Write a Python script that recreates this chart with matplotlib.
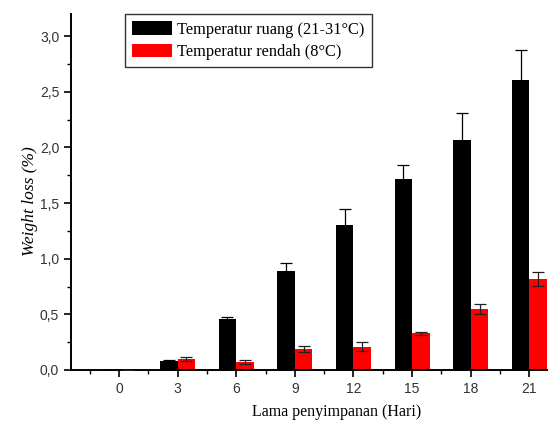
import numpy as np
import matplotlib
matplotlib.use("Agg")
import matplotlib.pyplot as plt
from matplotlib.ticker import MultipleLocator, FuncFormatter

# Data
days = [0, 3, 6, 9, 12, 15, 18, 21]
ruang = [0.0, 0.08, 0.46, 0.89, 1.30, 1.72, 2.07, 2.61]
ruang_err = [0.0, 0.01, 0.02, 0.07, 0.15, 0.12, 0.24, 0.27]
rendah = [0.0, 0.10, 0.07, 0.19, 0.21, 0.33, 0.55, 0.82]
rendah_err = [0.0, 0.015, 0.02, 0.03, 0.04, 0.015, 0.045, 0.065]

serif = ['Liberation Serif', 'DejaVu Serif']
sans = ['Liberation Sans', 'DejaVu Sans']

fig = plt.figure(figsize=(5.48, 4.23), dpi=100)
ax = fig.add_axes([0.1296, 0.1253, 0.8704, 0.8417])

w = 0.9
x = np.array(days, dtype=float)
ax.bar(x, ruang, width=-w, align='edge', color='black',
       label='Temperatur ruang (21-31°C)', zorder=2)
ax.bar(x, rendah, width=w, align='edge', color='#ff0000',
       label='Temperatur rendah (8°C)', zorder=2)
ax.errorbar(x - w / 2, ruang, yerr=ruang_err, fmt='none', ecolor='black',
            elinewidth=0.9, capsize=4, capthick=0.9, zorder=3)
ax.errorbar(x + w / 2, rendah, yerr=rendah_err, fmt='none', ecolor='#202020',
            elinewidth=0.9, capsize=4, capthick=0.9, zorder=3)

ax.set_xlim(-2.45, 21.95)
ax.set_ylim(0, 3.2)
ax.set_xticks(days)
ax.xaxis.set_minor_locator(MultipleLocator(1.5))
ax.yaxis.set_major_locator(MultipleLocator(0.5))
ax.yaxis.set_minor_locator(MultipleLocator(0.25))
ax.yaxis.set_major_formatter(FuncFormatter(lambda v, p: f"{v:.1f}".replace('.', ',')))

for s in ['top', 'right']:
    ax.spines[s].set_visible(False)
for s in ['left', 'bottom']:
    ax.spines[s].set_linewidth(1.4)

ax.tick_params(which='major', direction='out', length=5, width=1.2, labelsize=10)
ax.tick_params(which='minor', direction='out', length=3, width=1.0)
for lbl in ax.get_xticklabels() + ax.get_yticklabels():
    lbl.set_family(sans)
    lbl.set_color('#333333')

ax.set_ylabel('Weight loss (%)', family=serif, style='italic', fontsize=12.5)
ax.yaxis.set_label_coords(-0.07, 0.475)
ax.set_xlabel('Lama penyimpanan (Hari)', family=serif, fontsize=11.5)
ax.xaxis.set_label_coords(0.556, -0.095)

leg = ax.legend(loc='upper left', bbox_to_anchor=(0.113, 1.0), prop={'family': serif, 'size': 11.8},
                frameon=True, fancybox=False, edgecolor='black', handlelength=2.4,
                handleheight=0.9, borderpad=0.45, labelspacing=0.35, handletextpad=0.35,
                borderaxespad=0.0)
leg.get_frame().set_linewidth(1.0)

fig.savefig('out.png', dpi=100)
